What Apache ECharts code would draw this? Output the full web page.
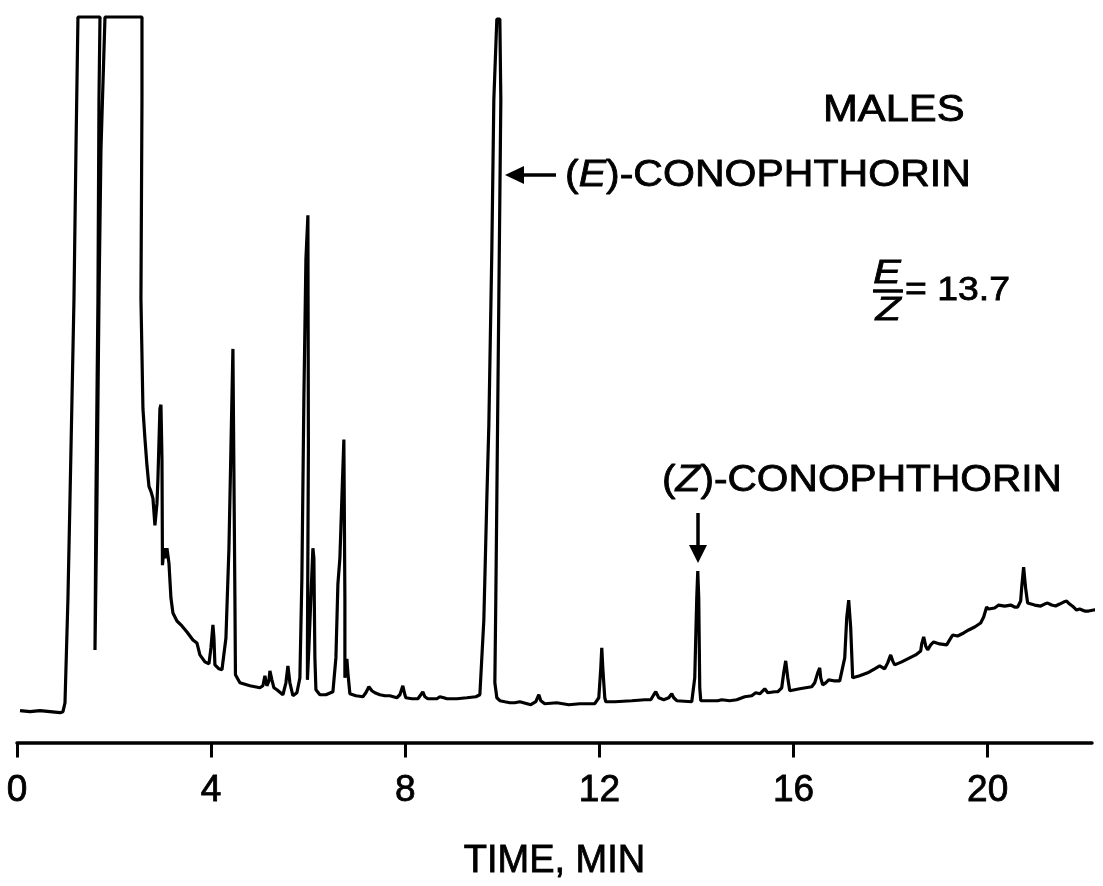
<!DOCTYPE html>
<html>
<head>
<meta charset="utf-8">
<title>GC trace – males</title>
<script src="https://cdn.jsdelivr.net/npm/echarts@6/dist/echarts.min.js"></script>
<style>
  html, body { margin: 0; padding: 0; background: #fff; }
  #chart { width: 1103px; height: 886px; }
</style>
</head>
<body>
<div id="chart"></div>
<script>
// Retention time (min) of each traced point of the chromatogram
var timeMin = [
  0.062,0.268,0.474,0.680,0.886,0.947,0.989,1.050,1.092,1.133,
  1.174,1.215,1.256,1.710,1.689,1.668,1.627,1.607,1.648,1.689,
  1.730,1.813,2.575,2.575,2.554,2.595,2.636,2.678,2.719,2.760,
  2.801,2.842,2.884,2.904,2.945,2.966,2.987,2.997,3.028,3.049,
  3.090,3.131,3.172,3.213,3.296,3.399,3.502,3.625,3.666,3.707,
  3.769,3.872,3.955,3.996,4.037,4.058,4.078,4.161,4.223,4.305,
  4.367,4.408,4.449,4.470,4.490,4.501,4.593,4.799,5.005,5.067,
  5.108,5.149,5.191,5.211,5.252,5.294,5.355,5.479,5.541,5.582,
  5.623,5.685,5.767,5.829,5.870,5.911,5.953,5.994,6.014,6.004,
  5.984,5.984,6.014,6.055,6.097,6.117,6.138,6.159,6.241,6.365,
  6.509,6.571,6.612,6.653,6.694,6.735,6.746,6.756,6.756,6.777,
  6.797,6.818,6.859,6.983,7.127,7.188,7.250,7.312,7.374,7.477,
  7.580,7.683,7.827,7.889,7.950,7.992,8.012,8.136,8.260,8.321,
  8.362,8.404,8.465,8.651,8.713,8.754,8.795,8.857,9.063,9.269,
  9.454,9.537,9.619,9.681,9.722,9.784,9.825,9.887,9.949,9.969,
  9.928,9.887,9.866,9.846,9.887,9.949,10.051,10.154,10.257,10.360,
  10.587,10.690,10.752,10.793,10.875,11.122,11.370,11.596,11.905,11.988,
  12.029,12.049,12.070,12.111,12.132,12.317,12.667,12.935,13.059,13.120,
  13.162,13.223,13.326,13.429,13.491,13.532,13.594,13.903,13.965,14.006,
  14.027,14.047,14.068,14.089,14.274,14.439,14.521,14.686,14.830,14.995,
  15.139,15.221,15.262,15.304,15.345,15.407,15.469,15.613,15.674,15.757,
  15.798,15.839,15.881,15.922,16.128,16.375,16.437,16.498,16.540,16.560,
  16.601,16.663,16.725,16.766,16.828,16.869,16.952,16.993,17.055,17.096,
  17.137,17.178,17.219,17.363,17.528,17.672,17.775,17.878,17.940,18.002,
  18.043,18.084,18.229,18.393,18.517,18.620,18.641,18.682,18.723,18.764,
  18.826,18.888,19.011,19.156,19.217,19.279,19.382,19.506,19.609,19.732,
  19.856,19.918,19.979,20.021,20.062,20.144,20.227,20.350,20.474,20.556,
  20.618,20.680,20.700,20.741,20.782,20.824,20.968,21.092,21.174,21.236,
  21.318,21.400,21.483,21.565,21.627,21.689,21.771,21.833,21.895,21.998,
  22.080,22.183,22.286,22.368
];

// Detector response (arbitrary units, recorder full scale = 728)
var response = [
  32,31,32,31,30,31,40,145,245,345,
  445,595,728,728,645,445,245,93,245,445,
  595,728,728,645,445,335,305,278,257,252,
  245,218,240,265,335,339,285,178,195,185,
  195,180,145,130,122,117,111,103,105,100,
  88,81,79,95,118,105,78,74,73,105,
  195,295,395,395,145,68,60,57,55,57,
  67,57,62,72,63,55,53,48,60,77,
  60,47,50,65,165,345,485,529,529,295,
  95,63,95,145,195,185,85,53,48,48,
  51,85,159,185,245,304,304,145,65,80,
  84,70,49,47,46,50,56,52,50,48,
  47,47,45,48,57,48,45,44,44,48,
  51,46,44,44,46,48,45,44,44,45,
  46,48,123,245,318,495,645,726,726,645,
  445,245,145,60,45,42,41,40,40,41,
  38,41,48,42,39,40,38,39,39,45,
  75,95,75,45,41,41,42,43,43,48,
  51,45,43,45,49,45,42,41,65,145,
  172,145,55,42,42,42,43,42,43,46,
  47,50,52,49,49,54,50,51,51,55,
  70,82,65,52,54,56,60,70,75,65,
  58,60,63,64,62,60,62,63,85,125,
  143,115,65,67,70,74,77,74,80,88,
  82,78,81,85,88,92,99,106,97,93,
  98,101,99,98,103,108,107,110,113,116,
  120,126,136,134,132,135,138,137,138,136,
  136,142,155,176,155,140,138,137,139,140,
  138,137,139,141,142,139,136,133,134,132,
  132,133,134,138
];

// Axis ticks
var tickValues = [0, 4, 8, 12, 16, 20];
var axisTitle = 'TIME, MIN';

var FF = '"Liberation Sans", Arial, Helvetica, sans-serif';
var chart = echarts.init(document.getElementById('chart'), null, { renderer: 'canvas' });

var traceData = timeMin.map(function (t, i) { return [t, response[i]]; });

var txt = function (x, y, text, size, opts) {
  opts = opts || {};
  return {
    type: 'text', x: x, y: y, scaleX: opts.scaleX || 1, z: 100,
    style: {
      text: text, fontSize: size, fontFamily: FF, fontStyle: opts.italic ? 'italic' : 'normal',
      fill: '#000', stroke: '#000', lineWidth: 0.8,
      align: opts.align || 'left', verticalAlign: 'middle',
      textAlign: opts.align || 'left', textVerticalAlign: 'middle',
      rich: { i: { fontStyle: 'italic', fontSize: size, fontFamily: FF, fill: '#000', stroke: '#000', lineWidth: 0.8 } }
    }
  };
};

chart.setOption({
  backgroundColor: '#fff',
  animation: false,
  grid: { left: 17, right: 11, top: 17, bottom: 141, containLabel: false },
  xAxis: {
    type: 'value', min: 0, max: 22.15, interval: 4,
    name: axisTitle, nameLocation: 'middle', nameGap: 100,
    nameTextStyle: { fontSize: 38, fontFamily: FF, color: '#000', lineHeight: 38,
                     textBorderColor: '#000', textBorderWidth: 0.8 },
    axisLine: { show: true, lineStyle: { color: '#000', width: 3.5 } },
    axisTick: { show: true, inside: false, length: 15, customValues: tickValues,
                lineStyle: { color: '#000', width: 3 } },
    axisLabel: { show: true, customValues: tickValues, margin: 30, fontSize: 37,
                 lineHeight: 37, fontFamily: FF, color: '#000',
                 textBorderColor: '#000', textBorderWidth: 0.8 },
    splitLine: { show: false }
  },
  yAxis: {
    type: 'value', min: 0, max: 728, show: false,
    splitLine: { show: false }
  },
  series: [{
    type: 'line', data: traceData, showSymbol: false, symbol: 'none', clip: false,
    smooth: false, sampling: null,
    lineStyle: { color: '#000', width: 3.2, join: 'bevel' }
  }],
  graphic: [
    txt(823, 111, 'MALES', 36, { scaleX: 1.16 }),
    txt(565, 176, '({i|E})-CONOPHTHORIN', 36, { scaleX: 1.14 }),
    { type: 'polygon', z: 100, shape: { points: [[505, 175], [524, 166], [524, 184]] }, style: { fill: '#000' } },
    { type: 'line', z: 100, shape: { x1: 522, y1: 175, x2: 556, y2: 175 }, style: { stroke: '#000', lineWidth: 3.5 } },
    txt(887, 274, 'E', 33, { italic: true, align: 'center', scaleX: 1.25 }),
    { type: 'line', z: 100, shape: { x1: 873, y1: 291, x2: 903, y2: 291 }, style: { stroke: '#000', lineWidth: 3.5 } },
    txt(888, 311, 'Z', 33, { italic: true, align: 'center', scaleX: 1.25 }),
    txt(905, 291, '= 13.7', 34, { scaleX: 1.1 }),
    txt(662, 481, '({i|Z})-CONOPHTHORIN', 36, { scaleX: 1.13 }),
    { type: 'line', z: 100, shape: { x1: 698, y1: 513, x2: 698, y2: 547 }, style: { stroke: '#000', lineWidth: 3.5 } },
    { type: 'polygon', z: 100, shape: { points: [[689, 545], [707, 545], [698, 563]] }, style: { fill: '#000' } }
  ]
});
</script>
</body>
</html>
